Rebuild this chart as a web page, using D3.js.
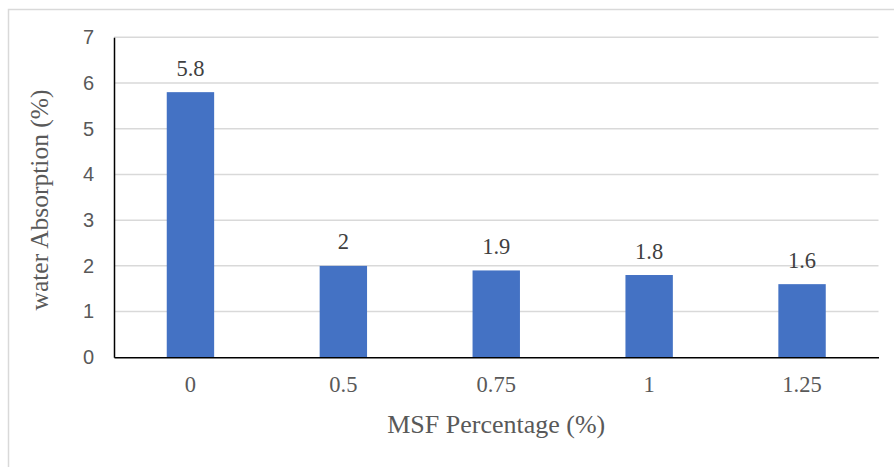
<!DOCTYPE html>
<html>
<head>
<meta charset="utf-8">
<script src="https://cdn.jsdelivr.net/npm/d3@7"></script>
<style>
  html, body { margin: 0; padding: 0; background: #ffffff; overflow: hidden; }
  svg { display: block; }
</style>
</head>
<body>
<svg id="chart" width="894" height="467"></svg>
<script>
const categories = ["0", "0.5", "0.75", "1", "1.25"];
const values = [5.8, 2, 1.9, 1.8, 1.6];
const dataLabels = ["5.8", "2", "1.9", "1.8", "1.6"];
const yTicks = [0, 1, 2, 3, 4, 5, 6, 7];
const xTitle = "MSF Percentage (%)";
const yTitle = "water Absorption (%)";

const svg = d3.select("#chart");

// outer frame (clipped by window on right/bottom)
svg.append("rect")
  .attr("x", 8.5).attr("y", 9.5)
  .attr("width", 920).attr("height", 480)
  .attr("fill", "#ffffff")
  .attr("stroke", "#d9d9d9").attr("stroke-width", 1.5);

const pLeft = 114, pRight = 878.5, pTop = 37.3, pBottom = 357.3;

const x = d3.scaleBand().domain(categories).range([pLeft, pRight]).padding(0);
const y = d3.scaleLinear().domain([0, 7]).range([pBottom, pTop]);

// gridlines
svg.append("g")
  .selectAll("line")
  .data(yTicks.filter(d => d > 0))
  .join("line")
  .attr("x1", pLeft).attr("x2", pRight)
  .attr("y1", d => y(d)).attr("y2", d => y(d))
  .attr("stroke", "#d9d9d9").attr("stroke-width", 1.5);

// bars
const barW = x.bandwidth() * 0.31;
svg.append("g")
  .selectAll("rect")
  .data(values)
  .join("rect")
  .attr("x", (d, i) => x(categories[i]) + x.bandwidth() / 2 - barW / 2)
  .attr("y", d => y(d))
  .attr("width", barW)
  .attr("height", d => y(0) - y(d))
  .attr("fill", "#4472C4");

// data labels
svg.append("g")
  .selectAll("text")
  .data(values)
  .join("text")
  .attr("x", (d, i) => x(categories[i]) + x.bandwidth() / 2)
  .attr("y", d => y(d) - 16.5)
  .attr("text-anchor", "middle")
  .attr("font-family", "'Liberation Serif', 'Times New Roman', serif")
  .attr("font-size", 22.5)
  .attr("fill", "#404040")
  .text((d, i) => dataLabels[i]);

// y axis
const yAxis = d3.axisLeft(y).tickValues(yTicks).tickSize(0).tickPadding(20).tickFormat(d3.format("d"));
const gy = svg.append("g").attr("transform", `translate(${pLeft},0)`).call(yAxis);
gy.select(".domain").attr("stroke", "#000000").attr("stroke-width", 1.5);
gy.selectAll("text")
  .attr("font-family", "'Liberation Sans', Arial, sans-serif")
  .attr("font-size", 20)
  .attr("fill", "#595959");

// x axis
const xAxis = d3.axisBottom(x).tickSize(0).tickPadding(19);
const gx = svg.append("g").attr("transform", `translate(0,${pBottom})`).call(xAxis);
gx.select(".domain").attr("stroke", "#000000").attr("stroke-width", 1.5);
gx.selectAll("text")
  .attr("font-family", "'Liberation Serif', 'Times New Roman', serif")
  .attr("font-size", 22.5)
  .attr("fill", "#595959");

// axis titles
svg.append("text")
  .attr("x", (pLeft + pRight) / 2)
  .attr("y", 433)
  .attr("text-anchor", "middle")
  .attr("font-family", "'Liberation Serif', 'Times New Roman', serif")
  .attr("font-size", 26)
  .attr("fill", "#595959")
  .text(xTitle);

svg.append("text")
  .attr("transform", `translate(48,200) rotate(-90)`)
  .attr("text-anchor", "middle")
  .attr("font-family", "'Liberation Serif', 'Times New Roman', serif")
  .attr("font-size", 25.5)
  .attr("fill", "#595959")
  .text(yTitle);
</script>
</body>
</html>
